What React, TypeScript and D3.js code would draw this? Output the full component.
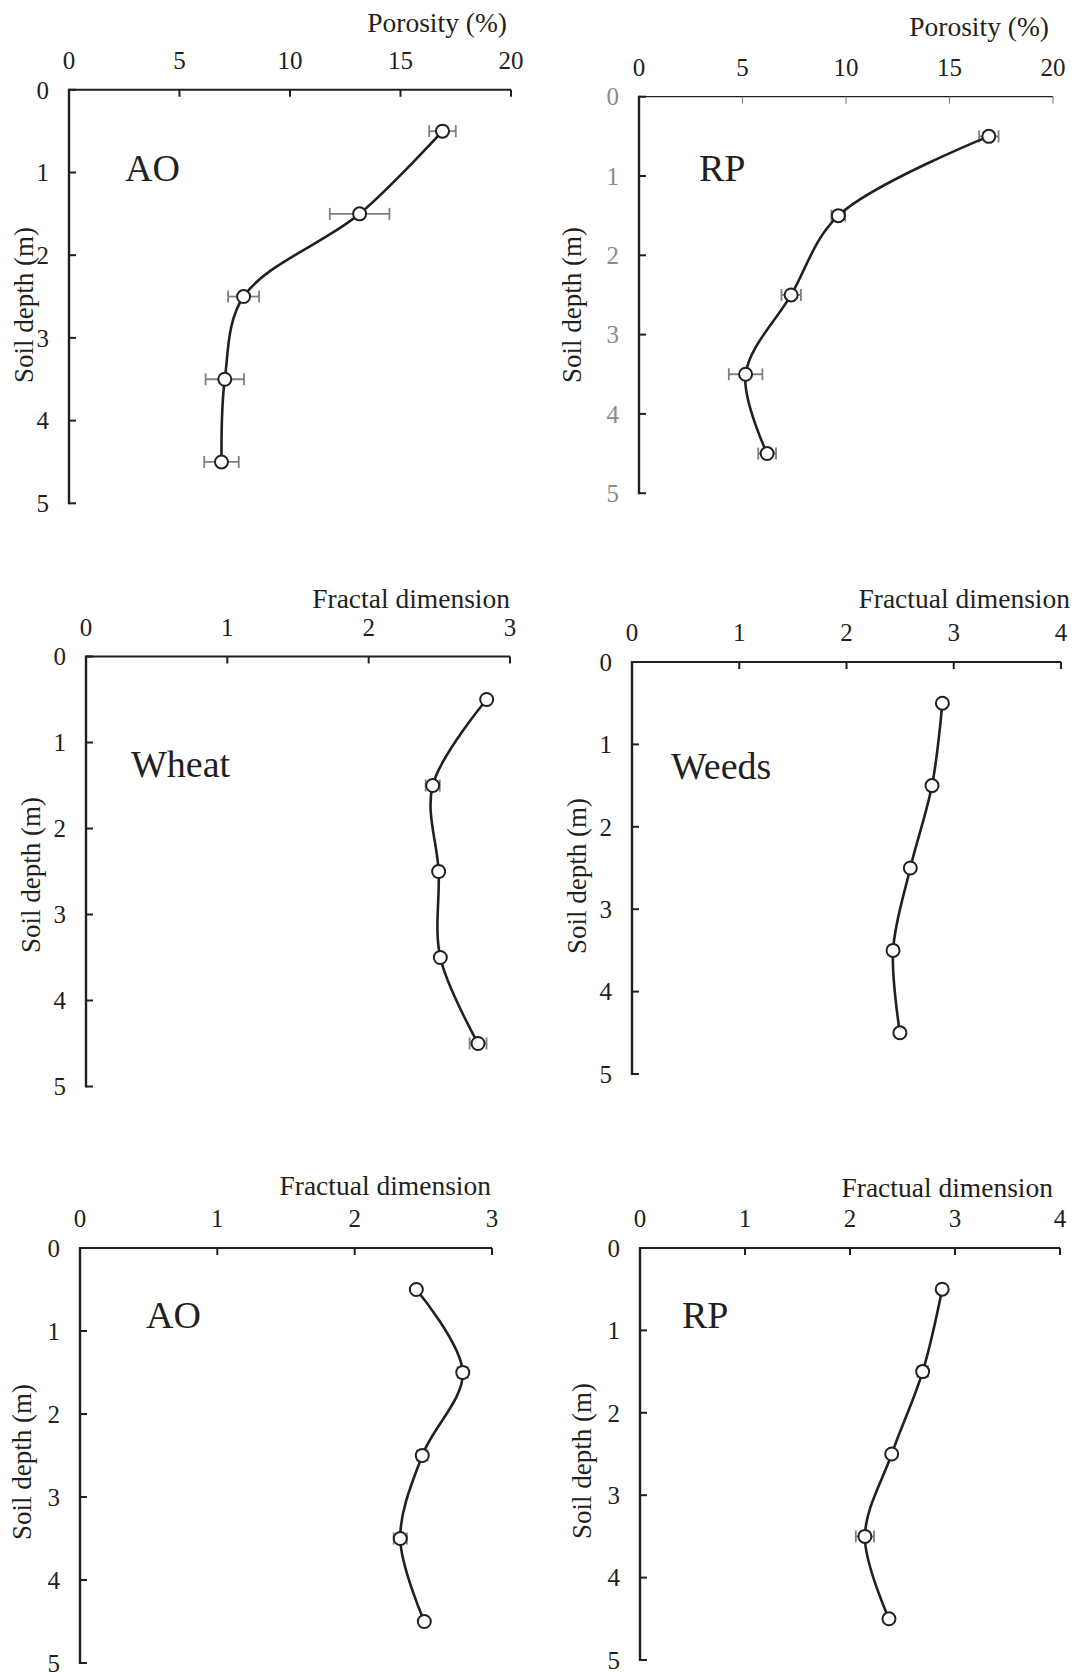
import React from "react";
import * as d3 from "d3";

const depths = [0.5, 1.5, 2.5, 3.5, 4.5];
const depthTicks = [0, 1, 2, 3, 4, 5];

const aoPorosity = [16.9, 13.15, 7.9, 7.05, 6.9];
const aoPorosityErr = [0.6, 1.35, 0.7, 0.87, 0.78];
const rpPorosity = [16.9, 9.63, 7.35, 5.15, 6.19];
const rpPorosityErr = [0.47, 0.33, 0.47, 0.81, 0.43];
const wheatFD = [2.835, 2.453, 2.495, 2.507, 2.774];
const wheatFDErr = [0.01, 0.05, 0.03, 0.01, 0.06];
const weedsFD = [2.894, 2.797, 2.595, 2.434, 2.498];
const weedsFDErr = [0.0, 0.0, 0.0, 0.0, 0.0];
const aoFD = [2.449, 2.787, 2.492, 2.332, 2.507];
const aoFDErr = [0.01, 0.038, 0.038, 0.048, 0.01];
const rpFD = [2.878, 2.692, 2.397, 2.142, 2.371];
const rpFDErr = [0.01, 0.05, 0.02, 0.087, 0.01];

const porosityTicks = [0, 5, 10, 15, 20];
const fd3Ticks = [0, 1, 2, 3];
const fd4Ticks = [0, 1, 2, 3, 4];

const FONT = "'Liberation Serif', 'Times New Roman', Times, serif";
const INK = "#231f20";

type Panel = {
  label: string;
  title: string;
  values: number[];
  errs: number[];
  xTicks: number[];
  left: number;
  top: number;
  width: number;
  height: number;
  titleX: number;
  titleY: number;
  labelX: number;
  labelY: number;
  yTitleX: number;
  yTitleY: number;
  light?: boolean;
};

const panels: Panel[] = [
  { label: "AO", title: "Porosity (%)", values: aoPorosity, errs: aoPorosityErr, xTicks: porosityTicks,
    left: 69, top: 89.8, width: 442, height: 413.5, titleX: 507, titleY: 32, labelX: 125, labelY: 181, yTitleX: 24, yTitleY: 305 },
  { label: "RP", title: "Porosity (%)", values: rpPorosity, errs: rpPorosityErr, xTicks: porosityTicks,
    left: 639, top: 96.7, width: 414, height: 396.5, titleX: 1049, titleY: 36, labelX: 699, labelY: 181, yTitleX: 572, yTitleY: 305, light: true },
  { label: "Wheat", title: "Fractal dimension", values: wheatFD, errs: wheatFDErr, xTicks: fd3Ticks,
    left: 86, top: 656.5, width: 424, height: 430, titleX: 510, titleY: 608, labelX: 131, labelY: 777, yTitleX: 31, yTitleY: 875 },
  { label: "Weeds", title: "Fractual dimension", values: weedsFD, errs: weedsFDErr, xTicks: fd4Ticks,
    left: 632, top: 662, width: 429, height: 412, titleX: 1070, titleY: 608, labelX: 671, labelY: 779, yTitleX: 577, yTitleY: 876 },
  { label: "AO", title: "Fractual dimension", values: aoFD, errs: aoFDErr, xTicks: fd3Ticks,
    left: 80, top: 1248, width: 412, height: 415, titleX: 491, titleY: 1195, labelX: 146, labelY: 1328, yTitleX: 22, yTitleY: 1462 },
  { label: "RP", title: "Fractual dimension", values: rpFD, errs: rpFDErr, xTicks: fd4Ticks,
    left: 640, top: 1248, width: 420, height: 412, titleX: 1053, titleY: 1197, labelX: 682, labelY: 1328, yTitleX: 582, yTitleY: 1461 },
];

function PanelChart({ p }: { p: Panel }) {
  const xMax = p.xTicks[p.xTicks.length - 1];
  const x = d3.scaleLinear().domain([0, xMax]).range([p.left, p.left + p.width]);
  const y = d3.scaleLinear().domain([0, 5]).range([p.top, p.top + p.height]);
  const pts = depths.map((d, i) => ({ d, v: p.values[i], e: p.errs[i] }));
  const line = d3
    .line<{ d: number; v: number }>()
    .x((q) => x(q.v))
    .y((q) => y(q.d))
    .curve(d3.curveCatmullRom.alpha(0.5));
  const xAxisStroke = p.light ? 1.2 : 2;
  const xTickColor = p.light ? "#8a8a8a" : INK;
  const yLabelColor = p.light ? "#8a8a8a" : INK;
  const capH = 6;
  return (
    <g>
      <line x1={p.left} x2={p.left + p.width} y1={p.top} y2={p.top} stroke={INK} strokeWidth={xAxisStroke} />
      {p.xTicks.map((t) => (
        <g key={"xt" + t}>
          <line x1={x(t)} x2={x(t)} y1={p.top} y2={p.top + 7} stroke={xTickColor} strokeWidth={p.light ? 1.2 : 2} />
          <text x={x(t)} y={p.top - 21} textAnchor="middle" fontSize={25} fontFamily={FONT} fill={INK}>
            {t}
          </text>
        </g>
      ))}
      <line x1={p.left} x2={p.left} y1={p.top - 1} y2={p.top + p.height + 1} stroke={INK} strokeWidth={2.4} />
      {depthTicks.map((t) => (
        <g key={"yt" + t}>
          <line x1={p.left} x2={p.left + 7} y1={y(t)} y2={y(t)} stroke={INK} strokeWidth={2} />
          <text x={p.left - 20} y={y(t)} dy="0.35em" textAnchor="end" fontSize={25} fontFamily={FONT} fill={yLabelColor}>
            {t}
          </text>
        </g>
      ))}
      <text x={p.titleX} y={p.titleY} textAnchor="end" fontSize={27.5} fontFamily={FONT} fill={INK}>
        {p.title}
      </text>
      <text
        transform={`translate(${p.yTitleX},${p.yTitleY}) rotate(-90)`}
        dy="0.35em"
        textAnchor="middle"
        fontSize={27}
        fontFamily={FONT}
        fill={INK}
      >
        Soil depth (m)
      </text>
      <text x={p.labelX} y={p.labelY} fontSize={38} fontFamily={FONT} fill={INK}>
        {p.label}
      </text>
      {pts.map((q, i) =>
        q.e > 0 ? (
          <g key={"eb" + i} stroke="#7f7f7f" strokeWidth={1.8}>
            <line x1={x(q.v - q.e)} x2={x(q.v + q.e)} y1={y(q.d)} y2={y(q.d)} />
            <line x1={x(q.v - q.e)} x2={x(q.v - q.e)} y1={y(q.d) - capH} y2={y(q.d) + capH} />
            <line x1={x(q.v + q.e)} x2={x(q.v + q.e)} y1={y(q.d) - capH} y2={y(q.d) + capH} />
          </g>
        ) : null
      )}
      <path d={line(pts) || ""} fill="none" stroke={INK} strokeWidth={2.6} />
      {pts.map((q, i) => (
        <circle key={"pt" + i} cx={x(q.v)} cy={y(q.d)} r={6.5} fill="#fff" stroke={INK} strokeWidth={2} />
      ))}
    </g>
  );
}

export default function App() {
  return (
    <svg
      width={1076}
      height={1673}
      viewBox="0 0 1076 1673"
      style={{ position: "absolute", left: 0, top: 0, display: "block", background: "#fff" }}
    >
      <rect x={0} y={0} width={1076} height={1673} fill="#fff" />
      {panels.map((p, i) => (
        <PanelChart key={i} p={p} />
      ))}
    </svg>
  );
}
